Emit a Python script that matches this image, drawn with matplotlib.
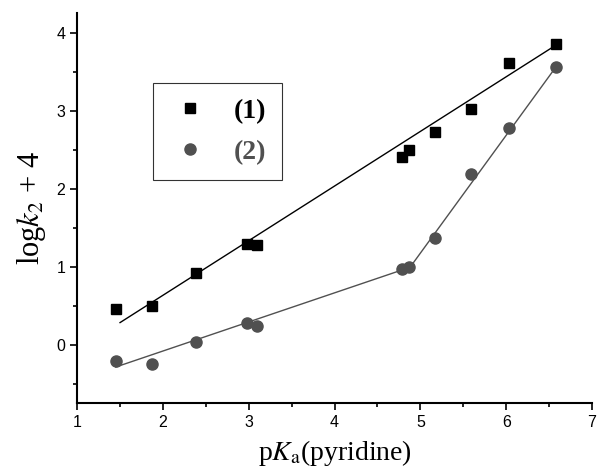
import matplotlib
matplotlib.use('Agg')
import matplotlib.pyplot as plt
from matplotlib.ticker import MultipleLocator

# pKa of pyridines and log k2 + 4 for the two series
pka = [1.45, 1.87, 2.38, 2.98, 3.10, 4.78, 4.87, 5.17, 5.59, 6.03, 6.58]
logk_1 = [0.47, 0.50, 0.93, 1.30, 1.28, 2.42, 2.50, 2.74, 3.03, 3.62, 3.87]
logk_2 = [-0.20, -0.24, 0.04, 0.28, 0.25, 0.98, 1.00, 1.38, 2.19, 2.79, 3.57]

# fitted lines
fit1_x = [1.50, 6.58]
fit1_y = [0.29, 3.85]
fit2_x = [1.45, 4.88, 6.58]
fit2_y = [-0.28, 1.00, 3.57]

grey = '#505050'
plt.rcParams['mathtext.fontset'] = 'stix'

fig = plt.figure(figsize=(5.98, 4.69), dpi=100)
ax = fig.add_axes([0.129, 0.141, 0.861, 0.831])

ax.plot(fit1_x, fit1_y, color='black', lw=1.0)
ax.plot(fit2_x, fit2_y, color=grey, lw=1.0)
h1, = ax.plot(pka, logk_1, 's', color='black', ms=7, ls='none', label='(1)')
h2, = ax.plot(pka, logk_2, 'o', color=grey, ms=8, ls='none', label='(2)')

ax.set_xlim(1, 7)
ax.set_ylim(-0.74, 4.26)
ax.xaxis.set_major_locator(MultipleLocator(1))
ax.xaxis.set_minor_locator(MultipleLocator(0.5))
ax.yaxis.set_major_locator(MultipleLocator(1))
ax.yaxis.set_minor_locator(MultipleLocator(0.5))
ax.tick_params(which='major', direction='out', length=5, width=1.2, labelsize=11.5)
ax.tick_params(which='minor', direction='out', length=3, width=1.2)
for lbl in ax.get_xticklabels() + ax.get_yticklabels():
    lbl.set_family('Liberation Sans')

ax.spines['top'].set_visible(False)
ax.spines['right'].set_visible(False)
ax.spines['left'].set_linewidth(1.5)
ax.spines['bottom'].set_linewidth(1.5)

ax.set_xlabel(r'p$K_{\mathrm{a}}$(pyridine)', family='Liberation Serif', size=20, labelpad=6)
ax.set_ylabel(r'log$k_{2}$ + 4', family='Liberation Serif', size=22, labelpad=6)

leg = ax.legend(handles=[h1, h2], loc='upper left', bbox_to_anchor=(0.148, 0.82),
                frameon=True, fancybox=False, edgecolor='black', borderpad=0.55,
                handlelength=1.55, handletextpad=0.8, labelspacing=0.55,
                borderaxespad=0, prop={'family': 'Liberation Serif', 'size': 20, 'weight': 'bold'})
leg.get_frame().set_linewidth(0.8)
leg.get_texts()[1].set_color(grey)

fig.savefig('out.png', dpi=100)
